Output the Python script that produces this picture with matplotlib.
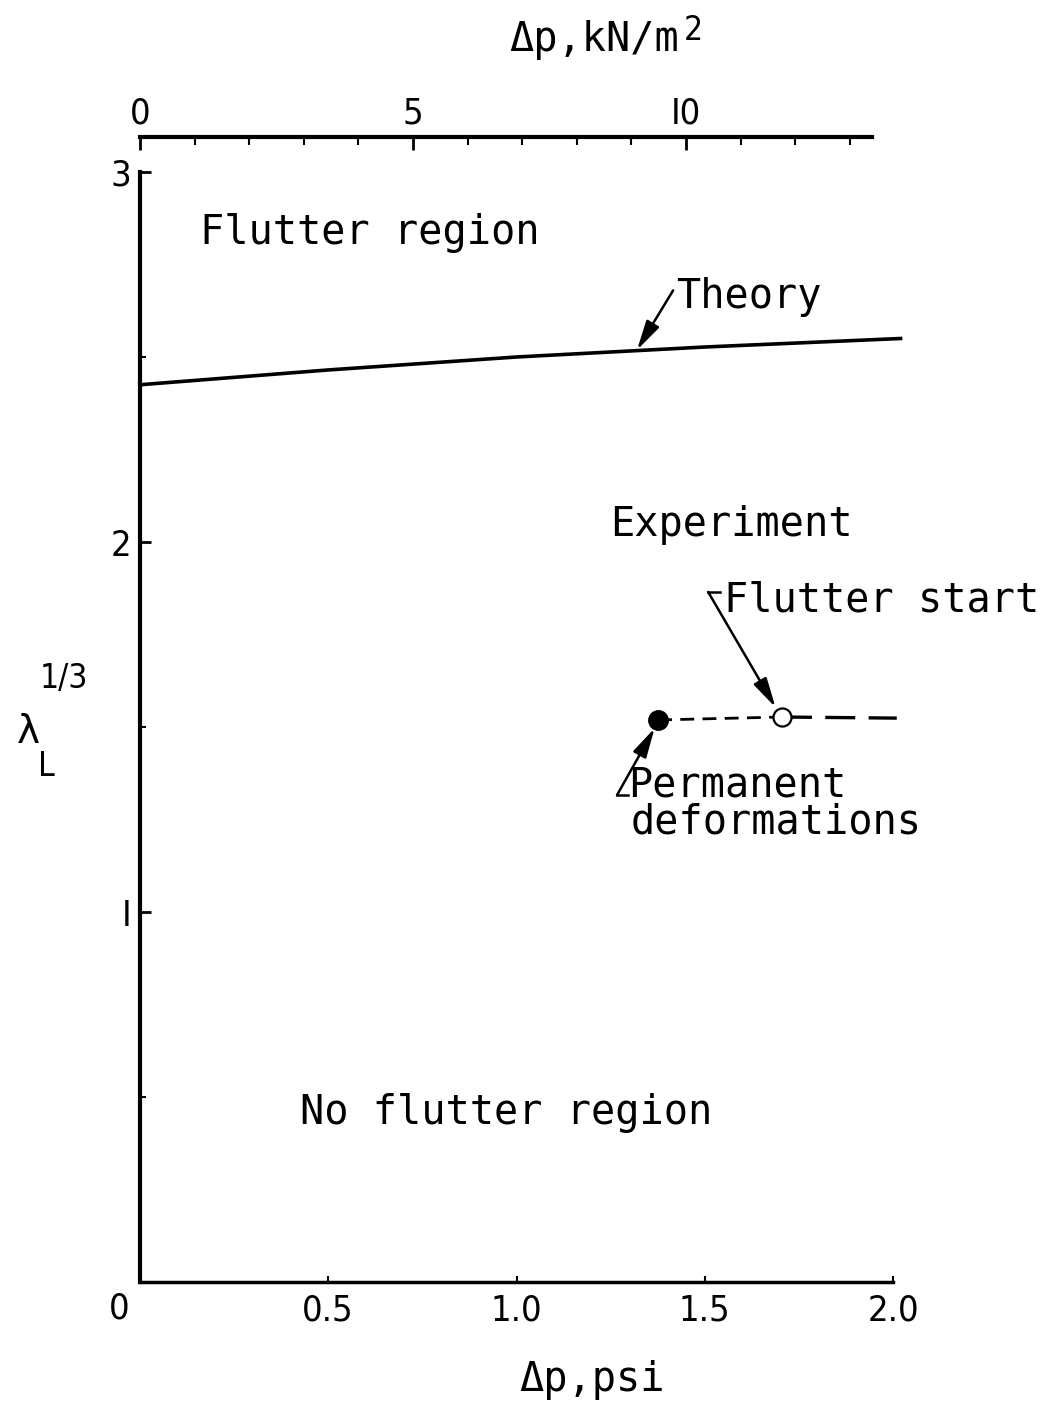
import numpy as np
import matplotlib.pyplot as plt
from matplotlib.ticker import FixedLocator, MultipleLocator

# theory curve: lambda_L^(1/3) against pressure difference (psi)
theory_dp = [0.0, 0.5, 1.0, 1.5, 2.02]
theory_lam = [2.425, 2.465, 2.50, 2.527, 2.55]

# experiment: permanent deformations, flutter start, end of run
exp_dp = [1.376, 1.705, 2.01]
exp_lam = [1.519, 1.527, 1.524]

psi_ticks = [0.5, 1.0, 1.5, 2.0]
psi_labels = ['0.5', '1.0', '1.5', '2.0']
kn_ticks = [0, 5, 10]
kn_labels = ['0', '5', 'I0']
lam_ticks = [1, 2, 3]
lam_labels = ['I', '2', '3']

KN_PER_PSI = 6.895

W, H = 1055, 1402
mono = ['DejaVu Sans Mono']
narrow = ['DejaVu Sans']


def px(x, y):
    # pixel position (from top-left) -> figure fraction
    return x / W, 1 - y / H


fig = plt.figure(figsize=(W / 100, H / 100), dpi=100)
ax = fig.add_axes([140 / W, 120 / H, 753 / W, 1110 / H])
ax.set_xlim(0, 2.0)
ax.set_ylim(0, 3)

for s in ['top', 'right']:
    ax.spines[s].set_visible(False)
ax.spines['left'].set_linewidth(3)
ax.spines['bottom'].set_linewidth(2.5)

tick_font = dict(family=narrow, fontsize=26, stretch='condensed')

ax.xaxis.set_major_locator(FixedLocator(psi_ticks))
ax.set_xticklabels(psi_labels, **tick_font)
ax.tick_params(axis='x', direction='in', length=4, width=1.5, pad=8)
ax.yaxis.set_major_locator(FixedLocator(lam_ticks))
ax.yaxis.set_minor_locator(FixedLocator([0.5, 1.5, 2.5]))
ax.set_yticklabels(lam_labels, **tick_font)
ax.tick_params(axis='y', which='major', direction='in', length=8, width=2, pad=6)
ax.tick_params(axis='y', which='minor', direction='in', length=4, width=1.5)
ax.annotate('0', xy=(0, 0), xytext=(-15, -19), textcoords='offset points',
            ha='center', va='center', **tick_font)

# top axis in kN/m^2
secax = ax.secondary_xaxis(1.0315, functions=(lambda x: x * KN_PER_PSI,
                                              lambda x: x / KN_PER_PSI))
secax.xaxis.set_major_locator(FixedLocator(kn_ticks))
secax.xaxis.set_minor_locator(MultipleLocator(1))
secax.set_xticklabels(kn_labels, **tick_font)
secax.tick_params(which='major', direction='in', length=9, width=2, pad=5)
secax.tick_params(which='minor', direction='in', length=6, width=1.5)
secax.spines['top'].set_linewidth(3)
secax.spines['top'].set_bounds(0, 13.4)

# theory
ax.plot(theory_dp, theory_lam, color='k', lw=2.6, clip_on=False)

# experiment
ax.plot(exp_dp[:2], exp_lam[:2], color='k', lw=2, ls=(0, (5, 3)), clip_on=False)
ax.plot(exp_dp[1:], exp_lam[1:], color='k', lw=2.4, ls=(0, (9, 4)), clip_on=False)
ax.plot(exp_dp[0], exp_lam[0], 'o', color='k', ms=14, clip_on=False, zorder=5)
ax.plot(exp_dp[1], exp_lam[1], 'o', mfc='white', mec='k', mew=1.6, ms=13,
        clip_on=False, zorder=5)

# region labels
txt = dict(family=mono, fontsize=29, va='center', ha='left')
ax.text(0.159, 2.835, 'Flutter region', **txt)
ax.text(1.248, 2.046, 'Experiment', **txt)
ax.text(0.425, 0.457, 'No flutter region', **txt)
ax.text(1.424, 2.662, 'Theory', **txt)
ax.text(1.551, 1.843, 'Flutter start', **txt)
ax.text(1.296, 1.341, 'Permanent', **txt)
ax.text(1.304, 1.241, 'deformations', **txt)

arrow = dict(arrowstyle='-|>,head_length=0.9,head_width=0.22', color='k',
             lw=1.8, shrinkA=0, shrinkB=0, mutation_scale=20)
ax.annotate('', xy=(1.32, 2.519), xytext=(1.416, 2.68), arrowprops=arrow)
ax.annotate('', xy=(1.688, 1.553), xytext=(1.509, 1.865), arrowprops=arrow)
ax.plot([1.509, 1.54], [1.865, 1.865], color='k', lw=1.8)
ax.annotate('', xy=(1.367, 1.497), xytext=(1.267, 1.316), arrowprops=arrow)
ax.plot([1.267, 1.295], [1.316, 1.316], color='k', lw=1.8)

# axis titles
fig.text(*px(594, 40), 'Δp,kN/m', family=mono, fontsize=29, ha='center', va='center')
fig.text(*px(693, 30), '2', fontsize=24, ha='center', va='center',
         family=narrow, stretch='condensed')
fig.text(*px(592, 1380), 'Δp,psi', family=mono, fontsize=29, ha='center', va='center')
fig.text(*px(28, 732), 'λ', family=['DejaVu Sans'], fontsize=28, ha='center', va='center')
fig.text(*px(46, 767), 'L', fontsize=24, ha='center', va='center',
         family=narrow, stretch='condensed')
fig.text(*px(64, 678), '1/3', fontsize=24, ha='center', va='center',
         family=narrow, stretch='condensed')

fig.savefig('out.png', dpi=100)
